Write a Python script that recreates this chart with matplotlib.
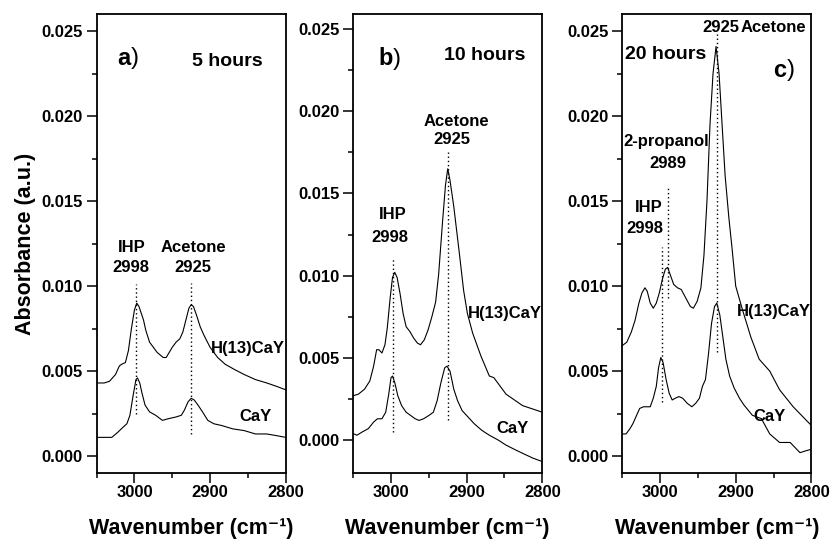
import numpy as np
import matplotlib
matplotlib.use("Agg")
import matplotlib.pyplot as plt
from matplotlib.ticker import MultipleLocator, FormatStrFormatter

plt.rcParams["font.family"] = ["Liberation Sans", "DejaVu Sans"]
plt.rcParams["font.weight"] = "bold"

# ---------------- data (wavenumber cm-1, absorbance) ----------------
# panel a - 5 hours
a_h_x = [3050, 3040, 3033, 3025, 3020, 3017, 3012, 3008, 3004, 3000, 2997, 2994, 2991,
         2988, 2985, 2980, 2975, 2970, 2962, 2958, 2954, 2950, 2945, 2940, 2936, 2932,
         2928, 2925, 2922, 2918, 2913, 2908, 2900, 2890, 2880, 2868, 2855, 2840, 2825,
         2812, 2800]
a_h_y = [0.0043, 0.0043, 0.0044, 0.0048, 0.0053, 0.0054, 0.0055, 0.0062, 0.0075, 0.0086,
         0.0090, 0.0088, 0.0084, 0.0080, 0.0074, 0.0067, 0.0064, 0.0061, 0.0058, 0.0058,
         0.0061, 0.0064, 0.0067, 0.0069, 0.0073, 0.0080, 0.0087, 0.0089, 0.0088, 0.0083,
         0.0076, 0.0071, 0.0064, 0.0058, 0.0054, 0.0051, 0.0048, 0.0045, 0.0043, 0.0041,
         0.0039]
a_c_x = [3050, 3040, 3030, 3022, 3015, 3010, 3006, 3002, 2998, 2996, 2993, 2990, 2986,
         2980, 2972, 2963, 2955, 2945, 2938, 2934, 2929, 2925, 2921, 2916, 2910, 2903,
         2895, 2885, 2870, 2855, 2840, 2825, 2812, 2800]
a_c_y = [0.0011, 0.0011, 0.0011, 0.0014, 0.0017, 0.0019, 0.0024, 0.0035, 0.0045, 0.0046,
         0.0043, 0.0037, 0.0030, 0.0026, 0.0024, 0.0021, 0.0022, 0.0023, 0.0024, 0.0027,
         0.0032, 0.0034, 0.0033, 0.0030, 0.0026, 0.0021, 0.0019, 0.0018, 0.0016, 0.0015,
         0.0013, 0.0013, 0.0012, 0.0011]

# panel b - 10 hours
b_h_x = [3050, 3043, 3035, 3028, 3023, 3019, 3016, 3012, 3008, 3005, 3001, 2998, 2995,
         2992, 2988, 2984, 2980, 2975, 2970, 2965, 2961, 2956, 2951, 2946, 2941, 2937,
         2932, 2928, 2925, 2922, 2917, 2910, 2904, 2899, 2892, 2881, 2870, 2864, 2848,
         2826, 2800]
b_h_y = [0.0027, 0.0028, 0.0031, 0.0036, 0.0045, 0.0055, 0.0055, 0.0053, 0.0058, 0.0068,
         0.0087, 0.0099, 0.0102, 0.0099, 0.0089, 0.0077, 0.0069, 0.0066, 0.0062, 0.0059,
         0.0058, 0.0061, 0.0067, 0.0075, 0.0084, 0.0101, 0.0132, 0.0155, 0.0165, 0.0158,
         0.0142, 0.0115, 0.0091, 0.0077, 0.0065, 0.0051, 0.0039, 0.0038, 0.0028, 0.0021,
         0.0017]
b_c_x = [3050, 3045, 3038, 3030, 3023, 3018, 3012, 3007, 3003, 3000, 2998, 2995, 2991,
         2986, 2980, 2974, 2968, 2963, 2957, 2950, 2944, 2939, 2934, 2929, 2926, 2922,
         2917, 2912, 2906, 2898, 2890, 2880, 2870, 2858, 2848, 2835, 2826, 2812, 2800]
b_c_y = [0.0004, 0.0003, 0.0005, 0.0007, 0.0011, 0.0013, 0.0013, 0.0017, 0.0028, 0.0038,
         0.0039, 0.0035, 0.0027, 0.0021, 0.0017, 0.0015, 0.0013, 0.0012, 0.0013, 0.0015,
         0.0017, 0.0024, 0.0035, 0.0044, 0.0045, 0.0042, 0.0031, 0.0024, 0.0018, 0.0014,
         0.0010, 0.0006, 0.0003, 0.0000, -0.0003, -0.0006, -0.0008, -0.0011, -0.0013]

# panel c - 20 hours
c_h_x = [3050, 3044, 3038, 3033, 3028, 3024, 3020, 3017, 3013, 3009, 3005, 3001, 2997,
         2993, 2990, 2986, 2982, 2977, 2972, 2966, 2960, 2956, 2951, 2946, 2942, 2938,
         2934, 2930, 2926, 2922, 2918, 2914, 2909, 2905, 2900, 2891, 2880, 2869, 2855,
         2842, 2824, 2800]
c_h_y = [0.0065, 0.0067, 0.0073, 0.0080, 0.0090, 0.0096, 0.0099, 0.0097, 0.0090, 0.0087,
         0.0090, 0.0096, 0.0104, 0.0110, 0.0111, 0.0106, 0.0101, 0.0099, 0.0098, 0.0093,
         0.0088, 0.0087, 0.0091, 0.0099, 0.0118, 0.0150, 0.0195, 0.0225, 0.0241, 0.0225,
         0.0195, 0.0165, 0.0140, 0.0123, 0.0100, 0.0086, 0.0070, 0.0057, 0.0050, 0.0039,
         0.0029, 0.0018]
c_c_x = [3050, 3045, 3040, 3036, 3031, 3027, 3022, 3018, 3013, 3009, 3005, 3002, 2999,
         2996, 2992, 2988, 2984, 2980, 2975, 2970, 2964, 2958, 2953, 2948, 2944, 2940,
         2936, 2932, 2928, 2925, 2921, 2917, 2913, 2908, 2902, 2895, 2889, 2878, 2866,
         2855, 2842, 2828, 2815, 2808, 2800]
c_c_y = [0.0013, 0.0013, 0.0016, 0.0019, 0.0024, 0.0028, 0.0029, 0.0029, 0.0029, 0.0034,
         0.0041, 0.0052, 0.0058, 0.0055, 0.0045, 0.0037, 0.0033, 0.0034, 0.0035, 0.0034,
         0.0031, 0.0029, 0.0031, 0.0034, 0.0041, 0.0045, 0.0060, 0.0078, 0.0088, 0.0090,
         0.0083, 0.0070, 0.0057, 0.0047, 0.0040, 0.0034, 0.0030, 0.0024, 0.0022, 0.0013,
         0.0008, 0.0008, 0.0002, 0.0003, 0.0004]

# marker lines (x, y_bottom, y_top)
a_marks = [(2998, 0.0025, 0.0101), (2925, 0.0013, 0.0102)]
b_marks = [(2998, 0.0005, 0.0111), (2925, 0.0012, 0.0175)]
c_marks = [(2998, 0.0032, 0.0123), (2989, 0.0093, 0.0159), (2925, 0.0061, 0.0249)]

ylims = [(-0.001, 0.026), (-0.002, 0.0259), (-0.001, 0.026)]
lefts = [0.116, 0.424, 0.747]

fig = plt.figure(figsize=(8.33, 5.45), dpi=100)
axes = []
for left, yl in zip(lefts, ylims):
    ax = fig.add_axes([left, 0.132, 0.227, 0.842])
    ax.set_xlim(3050, 2800)
    ax.set_ylim(*yl)
    ax.xaxis.set_major_locator(MultipleLocator(100))
    ax.xaxis.set_minor_locator(MultipleLocator(50))
    ax.yaxis.set_major_locator(MultipleLocator(0.005))
    ax.yaxis.set_minor_locator(MultipleLocator(0.0025))
    ax.yaxis.set_major_formatter(FormatStrFormatter("%.3f"))
    ax.tick_params(which="major", direction="out", length=7.5, width=1.1,
                   labelsize=12, pad=2.5)
    ax.tick_params(axis="x", which="major", pad=1)
    ax.tick_params(which="minor", direction="out", length=3.5, width=1.1)
    for sp in ax.spines.values():
        sp.set_linewidth(1.3)
    ax.set_xlabel("Wavenumber (cm\u207b\u00b9)", fontsize=15.5, fontweight="bold",
                  labelpad=13)
    axes.append(ax)

axes[0].set_ylabel("Absorbance (a.u.)", fontsize=15.5, fontweight="bold", labelpad=4)

series = [(a_h_x, a_h_y, a_c_x, a_c_y, a_marks),
          (b_h_x, b_h_y, b_c_x, b_c_y, b_marks),
          (c_h_x, c_h_y, c_c_x, c_c_y, c_marks)]
for ax, (hx, hy, cx, cy, marks) in zip(axes, series):
    ax.plot(hx, hy, color="black", lw=0.8)
    ax.plot(cx, cy, color="black", lw=0.8)
    for mx, y0, y1 in marks:
        ax.plot([mx, mx], [y0, y1], color="black", lw=1.0, ls=(0, (1, 2)))

lab = dict(fontsize=12, fontweight="bold", ha="center", va="center")
big = dict(fontsize=14, fontweight="bold", va="center")

def panel_tag(ax, x, y, letter):
    ax.text(x, y, letter, ha="right", va="center", fontsize=17, fontweight="bold")
    ax.text(x, y, ")", ha="left", va="center", fontsize=17, fontweight="normal")

# panel a
ax = axes[0]
panel_tag(ax, 3005, 0.0234, "a")
ax.text(2877, 0.0232, "5 hours", ha="center", **big)
ax.text(3004, 0.0123, "IHP", **lab)
ax.text(3005, 0.0111, "2998", **lab)
ax.text(2922, 0.0123, "Acetone", **lab)
ax.text(2923, 0.0111, "2925", **lab)
ax.text(2801, 0.0063, "H(13)CaY", fontsize=12, fontweight="bold", ha="right", va="center")
ax.text(2840, 0.0023, "CaY", **lab)

# panel b
ax = axes[1]
panel_tag(ax, 2997, 0.0232, "b")
ax.text(2876, 0.0234, "10 hours", ha="center", **big)
ax.text(2913, 0.0194, "Acetone", **lab)
ax.text(2919, 0.0183, "2925", **lab)
ax.text(2998, 0.0137, "IHP", **lab)
ax.text(3002, 0.0123, "2998", **lab)
ax.text(2801, 0.0077, "H(13)CaY", fontsize=12, fontweight="bold", ha="right", va="center")
ax.text(2840, 0.0007, "CaY", **lab)

# panel c
ax = axes[2]
ax.text(2920, 0.0252, "2925", **lab)
ax.text(2850, 0.0252, "Acetone", **lab)
ax.text(2992, 0.0236, "20 hours", ha="center", **big)
panel_tag(ax, 2833, 0.0227, "c")
ax.text(2992, 0.0185, "2-propanol", **lab)
ax.text(2990, 0.0172, "2989", **lab)
ax.text(3015, 0.0146, "IHP", **lab)
ax.text(3020, 0.0134, "2998", **lab)
ax.text(2801, 0.0085, "H(13)CaY", fontsize=12, fontweight="bold", ha="right", va="center")
ax.text(2855, 0.0023, "CaY", **lab)

fig.savefig("out.png", dpi=100)
